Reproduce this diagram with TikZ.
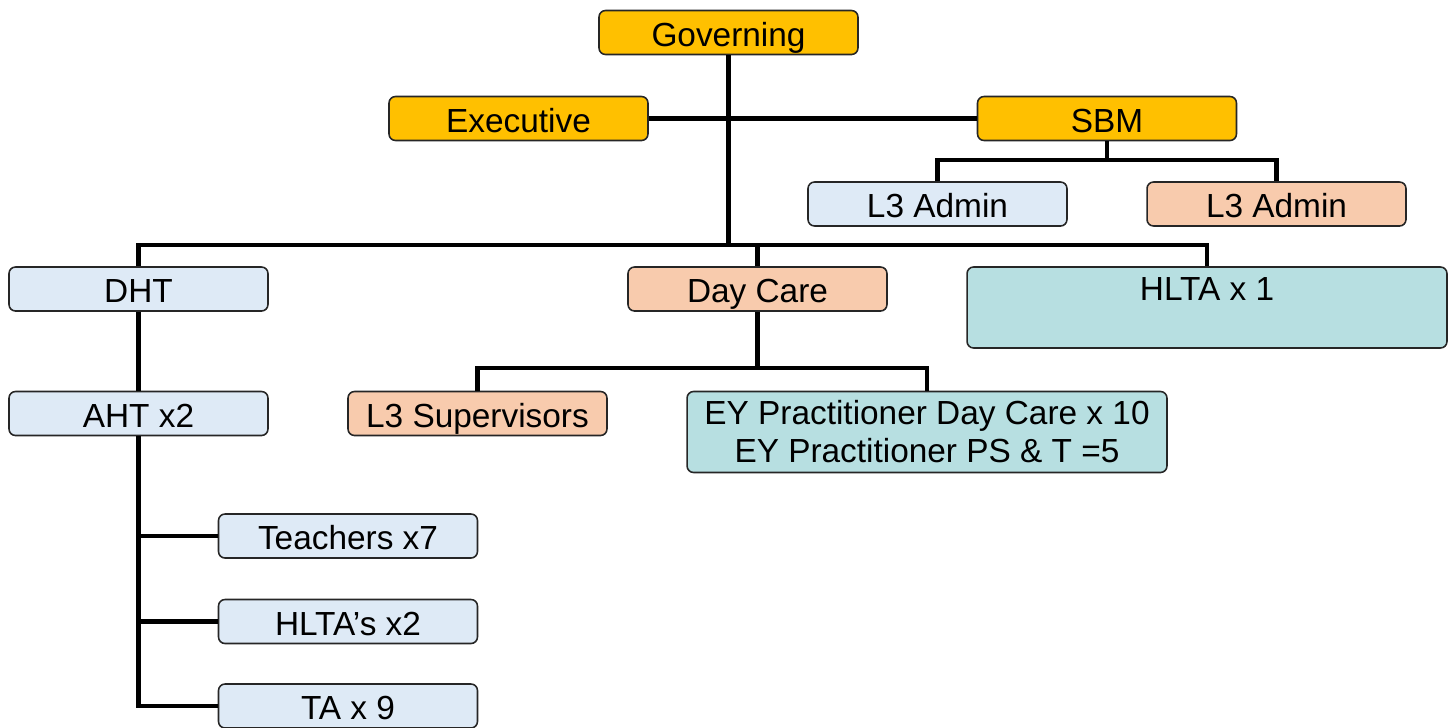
\documentclass[tikz,border=0pt]{standalone}
\usepackage{fontspec}
\setmainfont{Liberation Sans}
\usepackage{tikz}
\usetikzlibrary{positioning}
\definecolor{gold}{HTML}{FFC000}
\definecolor{paleblue}{HTML}{DEEAF6}
\definecolor{peach}{HTML}{F8CBAD}
\definecolor{teal}{HTML}{B7DFE1}
\tikzset{
    box/.style={draw=black!85, line width=0.9pt, rounded corners=0.13cm, align=center, inner sep=0pt, font=\fontsize{19}{21.6}\selectfont},
    post/.style={box, minimum width=5.18cm, minimum height=0.88cm, text height=17pt, text depth=1.2pt},
    widepost/.style={box, minimum width=9.6cm, minimum height=1.62cm},
    link/.style={line width=2.8pt},
}

\begin{document}
\begin{tikzpicture}[x=0.02cm,y=-0.02cm]
\useasboundingbox (0,0) rectangle (1453,727);

\node [post, fill=gold] (gov) at (728.5,32.5) {Governing};
\node [post, fill=gold] (exec) at (518.5,118.5) {Executive};
\node [post, fill=gold] (sbm) at (1107,118.5) {SBM};
\node [post, fill=paleblue] (adminA) at (937.5,204) {L3 Admin};
\node [post, fill=peach] (adminB) at (1276.5,204) {L3 Admin};

\node [post, fill=paleblue] (dht) at (138.5,289) {DHT};
\node [post, fill=peach] (daycare) at (757.5,289) {Day Care};
\node [widepost, fill=teal] (hlta) at (1207,307.5) {HLTA x 1\\\mbox{}};

\node [post, fill=paleblue] (aht) at (138.5,413.5) {AHT x2};
\node [post, fill=peach] (sup) at (477.5,413.5) {L3 Supervisors};
\node [widepost, fill=teal] (eyp) at (927,432) {EY Practitioner Day Care x 10\\EY Practitioner PS \& T =5};

\node [post, fill=paleblue] (teach) at (348,536) {Teachers x7};
\node [post, fill=paleblue] (hltas) at (348,621.5) {HLTA’s x2};
\node [post, fill=paleblue] (ta) at (348,706) {TA x 9};

\coordinate (bus) at (728.5,245);
\coordinate (sbmbus) at (1107,160);
\coordinate (dcbus) at (757.5,368);

\draw [link] (gov.south) -- (bus);
\draw [link] (exec.east) -- (sbm.west);
\draw [link] (sbm.south) -- (sbmbus);
\draw [link] (adminA.north) |- (sbmbus) -| (adminB.north);
\draw [link] (dht.north) |- (bus) -| (hlta.north);
\draw [link] (daycare.north) -- (daycare.north |- bus);
\draw [link] (dht.south) -- (aht.north);
\draw [link] (daycare.south) -- (dcbus);
\draw [link] (sup.north) |- (dcbus) -| (eyp.north);
\draw [link] (aht.south) |- (ta.west);
\draw [link] (teach.west) -- (teach.west -| aht.south);
\draw [link] (hltas.west) -- (hltas.west -| aht.south);

\end{tikzpicture}
\end{document}
